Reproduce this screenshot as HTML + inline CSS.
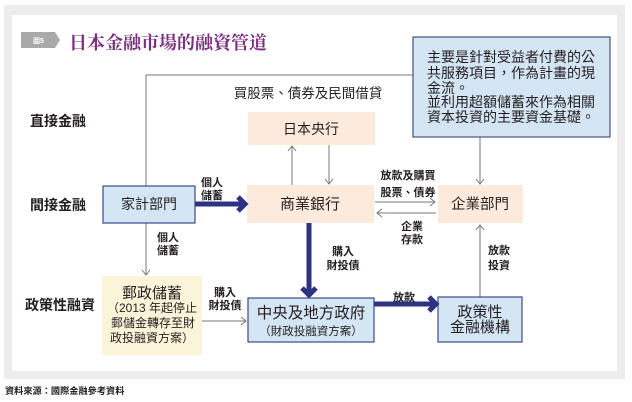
<!DOCTYPE html>
<html><head><meta charset="utf-8"><style>
html,body{margin:0;padding:0;background:#fff;}
svg{display:block;}
text{font-family:"Liberation Sans","Noto Sans CJK TC",sans-serif;fill:#231f20;}
</style></head><body>
<svg width="632" height="402" viewBox="0 0 632 402" xmlns="http://www.w3.org/2000/svg">
<rect x="4" y="5" width="621" height="374" fill="#ededed"/>
<rect x="12" y="15" width="605" height="356" fill="#ffffff"/>

<!-- title -->
<polygon points="21,32 55,32 60,40 55,48 21,48" fill="#a9a9a9"/>
<text x="33" y="43" style="font-size:7px;fill:#fff;font-weight:bold">圖5</text>
<text x="69" y="49" style="font-family:'Liberation Serif','Noto Serif CJK SC',serif;font-size:18px;fill:#7b2d7f;font-weight:bold">日本金融市場的融資管道</text>

<!-- row labels -->
<text x="30" y="126" style="font-size:14px;font-weight:bold">直接金融</text>
<text x="30" y="210" style="font-size:14px;font-weight:bold">間接金融</text>
<text x="25" y="310" style="font-size:14px;font-weight:bold">政策性融資</text>

<!-- thin gray connectors -->
<g stroke="#777" stroke-width="1" fill="none">
<polyline points="146,186 146,75 413,75"/>
<line x1="146" y1="223" x2="146" y2="275"/>
<polyline points="142,270 146,275 150,270"/>
<line x1="480" y1="137" x2="480" y2="184"/>
<polyline points="476,179 480,184 484,179"/>
<line x1="292" y1="185" x2="292" y2="146"/>
<polyline points="288,151 292,146 296,151"/>
<line x1="329" y1="145" x2="329" y2="184"/>
<polyline points="325,179 329,184 333,179"/>
<line x1="375" y1="202" x2="435" y2="202"/>
<polyline points="430,198 435,202 430,206"/>
<line x1="377" y1="213" x2="436" y2="213"/>
<polyline points="382,209 377,213 382,217"/>
<line x1="480" y1="297" x2="480" y2="225"/>
<polyline points="476,230 480,225 484,230"/>
<line x1="202" y1="321" x2="246" y2="321"/>
<polyline points="241,317 246,321 241,325"/>
</g>

<!-- blue note -->
<rect x="413" y="37" width="197" height="100" fill="#d4e5f3" stroke="#4a5285" stroke-width="1.2"/>
<g style="font-size:14px">
<text x="427" y="62">主要是針對受益者付費的公</text>
<text x="427" y="78">共服務項目，作為計畫的現</text>
<text x="427" y="93">金流。</text>
<text x="427" y="107">並利用超額儲蓄來作為相關</text>
<text x="427" y="122">資本投資的主要資金基礎。</text>
</g>

<text x="308" y="98" text-anchor="middle" style="font-size:13.5px">買股票、債券及民間借貸</text>

<!-- boxes -->
<rect x="248" y="112" width="127" height="33" fill="#fcebdc"/>
<text x="311" y="134" text-anchor="middle" style="font-size:14px">日本央行</text>

<rect x="247" y="185" width="127" height="38" fill="#fcebdc"/>
<text x="310" y="209" text-anchor="middle" style="font-size:15px">商業銀行</text>

<rect x="438" y="185" width="85" height="38" fill="#fcebdc"/>
<text x="480" y="209" text-anchor="middle" style="font-size:14.5px">企業部門</text>

<rect x="103" y="186" width="92" height="37" fill="#d4e5f3" stroke="#3b4a8a" stroke-width="1.2"/>
<text x="149" y="209" text-anchor="middle" style="font-size:14px">家計部門</text>

<rect x="102" y="276" width="100" height="79" fill="#fbf4d9"/>
<text x="152" y="298" text-anchor="middle" style="font-size:15px">郵政儲蓄</text>
<text x="152" y="312" text-anchor="middle" style="font-size:12px">（2013 年起停止</text>
<text x="153" y="327" text-anchor="middle" style="font-size:12px">郵儲金轉存至財</text>
<text x="152" y="342" text-anchor="middle" style="font-size:12px">政投融資方案）</text>

<rect x="248" y="298" width="126" height="44" fill="#d4e5f3" stroke="#3b4a8a" stroke-width="1.2"/>
<text x="311" y="318" text-anchor="middle" style="font-size:15.5px">中央及地方政府</text>
<text x="311" y="335" text-anchor="middle" style="font-size:11.5px">（財政投融資方案）</text>

<rect x="438" y="297" width="84" height="45" fill="#d4e5f3" stroke="#3b4a8a" stroke-width="1.2"/>
<text x="480" y="317" text-anchor="middle" style="font-size:15px">政策性</text>
<text x="480" y="332" text-anchor="middle" style="font-size:15px">金融機構</text>

<!-- thick navy arrows -->
<g stroke="#2e3283" stroke-width="5" fill="none" stroke-linejoin="miter" stroke-miterlimit="10">
<line x1="195" y1="204" x2="243" y2="204"/>
<polyline points="238,197 245,204 238,211"/>
<line x1="309" y1="223" x2="309" y2="294"/>
<polyline points="302,288 309,295 316,288"/>
<line x1="374" y1="304" x2="434" y2="304"/>
<polyline points="429,297 436,304 429,311"/>
</g>

<!-- small labels -->
<g style="font-size:11px;font-weight:bold" text-anchor="middle">
<text x="212" y="186">個人</text>
<text x="212" y="199">儲蓄</text>
<text x="168" y="241">個人</text>
<text x="168" y="254">儲蓄</text>
<text x="408" y="179">放款及購買</text>
<text x="408" y="196">股票、債券</text>
<text x="412" y="230">企業</text>
<text x="412" y="243">存款</text>
<text x="343" y="255">購入</text>
<text x="343" y="269">財投債</text>
<text x="499" y="254">放款</text>
<text x="499" y="269">投資</text>
<text x="225" y="296">購入</text>
<text x="225" y="309">財投債</text>
<text x="404" y="301">放款</text>
</g>

<text x="5" y="394" style="font-size:9.2px;font-weight:bold">資料來源：國際金融參考資料</text>
</svg>
</body></html>
